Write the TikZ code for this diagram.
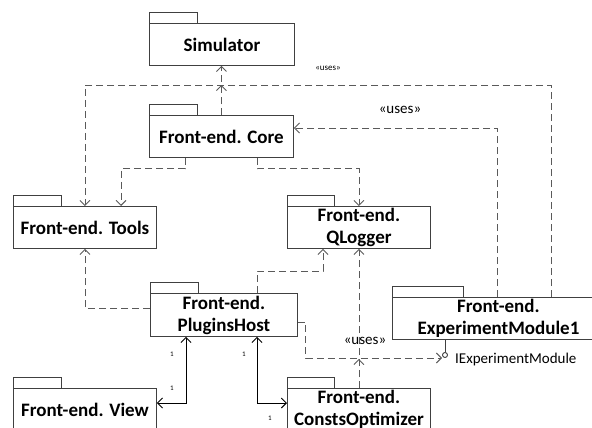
\documentclass[tikz,border=0pt]{standalone}
\usepackage{fontspec}
\setmainfont{Carlito}
\usetikzlibrary{arrows.meta,calc}

\definecolor{pkggray}{HTML}{404040}
\definecolor{depgray}{HTML}{5A5A5A}

\tikzset{
    pkg/.style={draw=pkggray, line width=0.9pt, anchor=north west, inner sep=0pt,
        align=center, minimum height=42pt, font=\bfseries\fontsize{19}{22}\selectfont},
    tab/.style={draw=pkggray, line width=0.9pt},
    dep/.style={draw=depgray, line width=0.9pt, dash pattern=on 7pt off 4pt,
        -{Straight Barb[length=5pt,width=10pt]}},
    assoc/.style={line width=0.9pt,
        {Straight Barb[length=5pt,width=10pt]}-{Straight Barb[length=5pt,width=10pt]}},
    mult/.style={inner sep=0pt, font=\fontsize{7}{8}\selectfont},
    stereo/.style={inner sep=0pt, font=\fontsize{15}{17}\selectfont},
}

\begin{document}
\begin{tikzpicture}[x=1pt, y=-1pt]
        \useasboundingbox (0,0) rectangle (592,428);

        % packages
        \node[pkg, minimum width=145pt] (sim) at (149,23) {Simulator};
        \node[pkg, minimum width=144pt] (core) at (149,115) {Front-end. Core};
        \node[pkg, minimum width=143pt] (tools) at (13,206) {Front-end. Tools};
        \node[pkg, minimum width=143pt] (qlog) at (287,206) {Front-end.\\QLogger};
        \node[pkg, minimum width=147pt, minimum height=43pt] (ph) at (150,293) {Front-end.\\PluginsHost};
        \node[pkg, minimum width=212pt] (em) at (392,297) {Front-end.\\ExperimentModule1};
        \node[pkg, minimum width=143pt] (co) at (287,388) {Front-end.\\ConstsOptimizer};
        \node[pkg, minimum width=143pt] (view) at (13,388) {Front-end. View};

        \foreach \n/\w in {sim/48, core/48, tools/48, qlog/47, ph/48, em/71, co/47, view/48}
            \draw[tab] (\n.north west) rectangle ++(\w,-11);

        % interface
        \node[circle, draw=pkggray, line width=0.9pt, inner sep=0pt, minimum size=5pt] (iface) at (445,355) {};
        \node[anchor=west, inner sep=0pt, font=\fontsize{15}{17}\selectfont] (ilabel) at (455,359) {IExperimentModule};
        \draw[pkggray, line width=0.9pt] ($(em.south west)+(53,0)$) -- (iface.north);

        \coordinate (bus) at (0,85);

        % dependencies
        \draw[dep] (core.north) -- (core.north |- sim.south);
        \draw[dep] (core.north) -- (core.north |- bus);
        \draw[dep] ($(em.north west)+(159,0)$) |- (tools.north |- bus) -- (tools.north);
        \draw[dep] ($(em.north west)+(105,0)$) |- ($(core.north east)+(0,13)$);
        \draw[dep] ($(core.south west)+(36,0)$) -- ++(0,11) -| ($(tools.north west)+(108,0)$);
        \draw[dep] ($(core.south west)+(108,0)$) -- ++(0,11) -| (qlog.north);
        \draw[dep] ($(ph.north west)+(0,15)$) -| (tools.south);
        \draw[dep] ($(ph.north west)+(107,0)$) -- ++(0,-22) -| ($(qlog.south west)+(36,0)$);
        \draw[dep] (co.north) -- (qlog.south);
        \draw[dep] (co.north) -- (co.north |- ilabel);
        \draw[dep] ($(ph.north east)+(0,29)$) -- ++(8,0) |- ($(iface)+(-3,3)$);

        % associations
        \draw[assoc] ($(ph.south west)+(36,0)$) |- ($(view.north east)+(0,15)$);
        \draw[assoc] ($(ph.south west)+(107,0)$) |- ($(co.north west)+(0,15)$);

        \node[mult] (m1) at (172,354) {1};
        \node[mult] (m2) at (172,388) {1};
        \node[mult] (m3) at (244,354) {1};
        \node[mult] (m4) at (270,418) {1};

        \node[stereo] (u1) at (400,110) {«uses»};
        \node[stereo] (u2) at (365,341) {«uses»};
        \node[inner sep=0pt, font=\fontsize{9}{10}\selectfont] (u3) at (328,68) {«uses»};
    \end{tikzpicture}
\end{document}
